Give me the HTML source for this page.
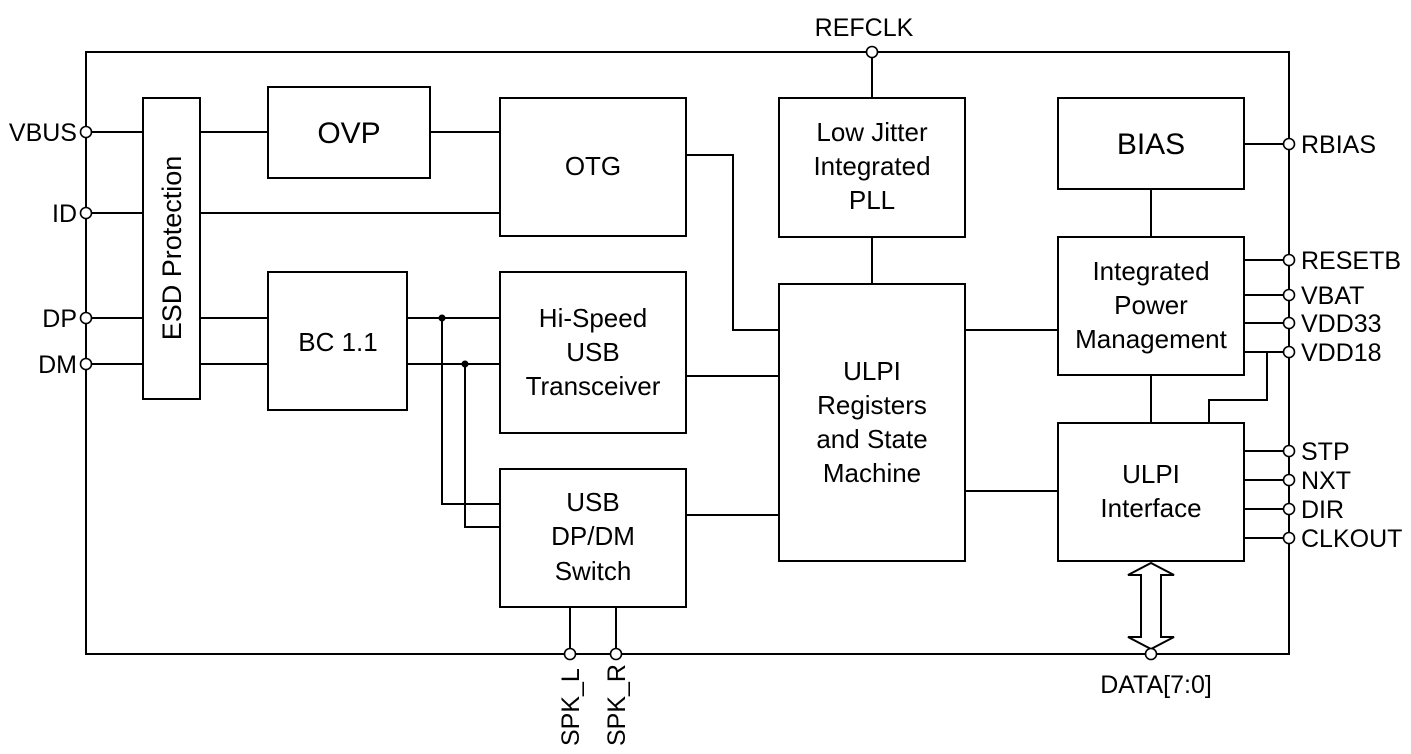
<!DOCTYPE html>
<html><head><meta charset="utf-8"><style>
html,body{margin:0;padding:0;background:#fff;}
svg{display:block;}
text{font-family:"Liberation Sans",Arial,sans-serif;fill:#000;}
</style></head><body>
<svg width="1411" height="754" viewBox="0 0 1411 754" xmlns="http://www.w3.org/2000/svg">
<g fill="none" stroke="#000" stroke-width="2">
<rect x="86" y="52" width="1203" height="602"/>
<rect x="143" y="98" width="57" height="301"/>
<rect x="268" y="87" width="162" height="91"/>
<rect x="500" y="98" width="186" height="138"/>
<rect x="268" y="272" width="139" height="138"/>
<rect x="500" y="272" width="186" height="161"/>
<rect x="500" y="469" width="186" height="138"/>
<rect x="779" y="98" width="186" height="139"/>
<rect x="779" y="284" width="186" height="277"/>
<rect x="1058" y="98" width="186" height="91"/>
<rect x="1058" y="237" width="186" height="138"/>
<rect x="1058" y="423" width="186" height="138"/>
<path d="M86 132H143M86 213H143M86 318H143M86 364H143"/>
<path d="M200 132H268M430 132H500M200 213H500M200 318H268M200 364H268"/>
<path d="M407 318H500M407 364H500M442 318V504H500M465 364V527H500"/>
<path d="M686 155H733V330H779M686 376H779M686 515H779"/>
<path d="M872 52V98M872 237V284"/>
<path d="M965 330H1058M965 491H1058"/>
<path d="M1151 189V237M1151 375V423"/>
<path d="M1244 144H1289M1244 260H1289M1244 295H1289M1244 323H1289M1244 352H1289"/>
<path d="M1267 352V400H1209V423"/>
<path d="M1244 451H1289M1244 480H1289M1244 509H1289M1244 538H1289"/>
<path d="M570 607V654M616 607V654"/>
<path d="M1151 563L1174 575H1161V637H1174L1151 649L1128 637H1141V575H1128Z" fill="#fff"/>
</g>
<g fill="#000"><circle cx="442" cy="318" r="3.5"/><circle cx="465" cy="364" r="3.5"/></g>
<g fill="#fff" stroke="#000" stroke-width="1.6">
<circle cx="86" cy="132" r="5.5"/><circle cx="86" cy="213" r="5.5"/><circle cx="86" cy="318" r="5.5"/><circle cx="86" cy="364" r="5.5"/>
<circle cx="872" cy="52" r="5.5"/>
<circle cx="1289" cy="144" r="5.5"/><circle cx="1289" cy="260" r="5.5"/><circle cx="1289" cy="295" r="5.5"/><circle cx="1289" cy="323" r="5.5"/><circle cx="1289" cy="352" r="5.5"/>
<circle cx="1289" cy="451" r="5.5"/><circle cx="1289" cy="480" r="5.5"/><circle cx="1289" cy="509" r="5.5"/><circle cx="1289" cy="538" r="5.5"/>
<circle cx="570" cy="654" r="5.5"/><circle cx="616" cy="654" r="5.5"/><circle cx="1151" cy="654" r="5.5"/>
</g>
<g font-size="25">
<text x="77" y="141" text-anchor="end">VBUS</text>
<text x="77" y="222" text-anchor="end">ID</text>
<text x="77" y="327" text-anchor="end">DP</text>
<text x="77" y="373" text-anchor="end">DM</text>
<text x="864" y="36" text-anchor="middle">REFCLK</text>
<text x="1301" y="153">RBIAS</text>
<text x="1301" y="269">RESETB</text>
<text x="1301" y="304">VBAT</text>
<text x="1301" y="332">VDD33</text>
<text x="1301" y="361">VDD18</text>
<text x="1301" y="460">STP</text>
<text x="1301" y="489">NXT</text>
<text x="1301" y="518">DIR</text>
<text x="1301" y="547">CLKOUT</text>
<text x="1156" y="693" text-anchor="middle">DATA[7:0]</text>
<text transform="translate(579,746) rotate(-90)">SPK_L</text>
<text transform="translate(625,746) rotate(-90)">SPK_R</text>
</g>
<g font-size="26" text-anchor="middle">
<text transform="translate(181,248) rotate(-90)" font-size="27">ESD Protection</text>
<text x="349" y="143" font-size="30">OVP</text>
<text x="593" y="175">OTG</text>
<text x="338" y="351">BC 1.1</text>
<text x="593" y="327">Hi-Speed</text>
<text x="593" y="361">USB</text>
<text x="593" y="395">Transceiver</text>
<text x="593" y="511">USB</text>
<text x="593" y="545">DP/DM</text>
<text x="593" y="580">Switch</text>
<text x="872" y="141">Low Jitter</text>
<text x="872" y="175">Integrated</text>
<text x="872" y="209">PLL</text>
<text x="872" y="380">ULPI</text>
<text x="872" y="414">Registers</text>
<text x="872" y="448">and State</text>
<text x="872" y="482">Machine</text>
<text x="1151" y="154" font-size="30">BIAS</text>
<text x="1151" y="280">Integrated</text>
<text x="1151" y="314">Power</text>
<text x="1151" y="348">Management</text>
<text x="1151" y="483">ULPI</text>
<text x="1151" y="517">Interface</text>
</g>
</svg>
</body></html>
